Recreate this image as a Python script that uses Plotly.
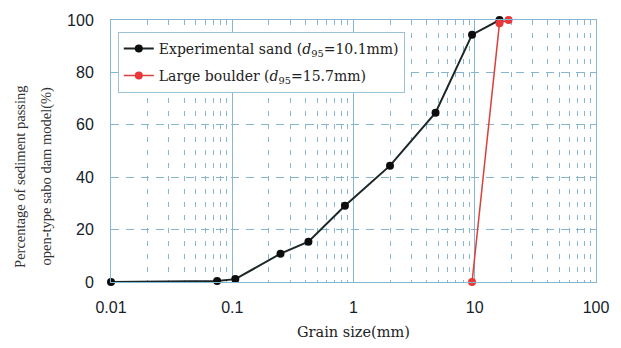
import plotly.graph_objects as go

# Data
sand_size_mm = [0.01, 0.075, 0.106, 0.25, 0.425, 0.85, 2.0, 4.75, 9.5, 16.0]
sand_passing = [0.0, 0.4, 1.1, 10.8, 15.4, 29.1, 44.4, 64.6, 94.4, 100.0]
boulder_size_mm = [9.5, 16.0, 19.0]
boulder_passing = [0.0, 98.8, 100.0]
x_tick_vals = [0.01, 0.1, 1, 10, 100]
x_tick_text = ["0.01", "0.1", "1", "10", "100"]
y_tick_vals = [0, 20, 40, 60, 80, 100]

GRID = "#86b6d0"
SERIF = "DejaVu Serif"
SERIF2 = "Liberation Serif"
SANS = "Liberation Sans"

fig = go.Figure()
fig.add_trace(go.Scatter(
    x=sand_size_mm, y=sand_passing, mode="lines+markers",
    name="Experimental sand (<i>d</i><sub>95</sub>=10.1mm)",
    line=dict(color="#1b2727", width=2),
    marker=dict(color="#0d0d0d", size=8),
    cliponaxis=False, legendgroup="a",
))
fig.add_trace(go.Scatter(
    x=boulder_size_mm, y=boulder_passing, mode="lines+markers",
    name="Large boulder (<i>d</i><sub>95</sub>=15.7mm)",
    line=dict(color="#d9403c", width=1.5),
    marker=dict(color="#e8383a", size=8),
    cliponaxis=False, legendgroup="b",
))

fig.update_layout(
    width=621, height=348,
    margin=dict(l=111, r=17, t=14, b=66),
    paper_bgcolor="white", plot_bgcolor="white",
    showlegend=True,
    legend=dict(
        x=0.014, y=0.955, xanchor="left", yanchor="top",
        bgcolor="white", bordercolor="#9cc2d6", borderwidth=1,
        font=dict(family=SERIF, size=14, color="#222"),
        tracegroupgap=6,
    ),
    xaxis=dict(
        type="log", range=[-2, 2],
        tickvals=x_tick_vals, ticktext=x_tick_text,
        showgrid=True, gridcolor=GRID, gridwidth=1,
        showline=True, linecolor=GRID, linewidth=1, mirror=True,
        ticks="", ticklabelstandoff=11,
        tickfont=dict(family=SANS, size=16, color="#15222a"),
        minor=dict(dtick="D1", showgrid=True, gridcolor=GRID, gridwidth=1,
                   griddash="5px,8px", ticks=""),
        zeroline=False,
    ),
    yaxis=dict(
        range=[0, 100], tickvals=y_tick_vals,
        showgrid=True, gridcolor=GRID, gridwidth=1, griddash="8px,7px",
        showline=True, linecolor=GRID, linewidth=1, mirror=True,
        ticks="", ticklabelstandoff=13,
        tickfont=dict(family=SANS, size=16, color="#15222a"),
        zeroline=False,
    ),
    annotations=[
        dict(text="Grain size(mm)", xref="paper", yref="paper",
             x=0.5, y=-0.19, xanchor="center", yanchor="middle",
             showarrow=False, font=dict(family=SERIF, size=14.5, color="#222")),
        dict(text="Percentage of sediment passing", xref="paper", yref="paper",
             x=-0.1866, y=0.403, xanchor="center", yanchor="middle", textangle=-90,
             showarrow=False, font=dict(family=SERIF2, size=14.5, color="#333")),
        dict(text="open-type sabo dam model(%)", xref="paper", yref="paper",
             x=-0.134, y=0.403, xanchor="center", yanchor="middle", textangle=-90,
             showarrow=False, font=dict(family=SERIF2, size=14.5, color="#333")),
    ],
)

fig.write_html(
    "out.html",
    config={"displayModeBar": False},
    post_script="document.body.style.margin='0';document.body.style.overflow='hidden';",
)
